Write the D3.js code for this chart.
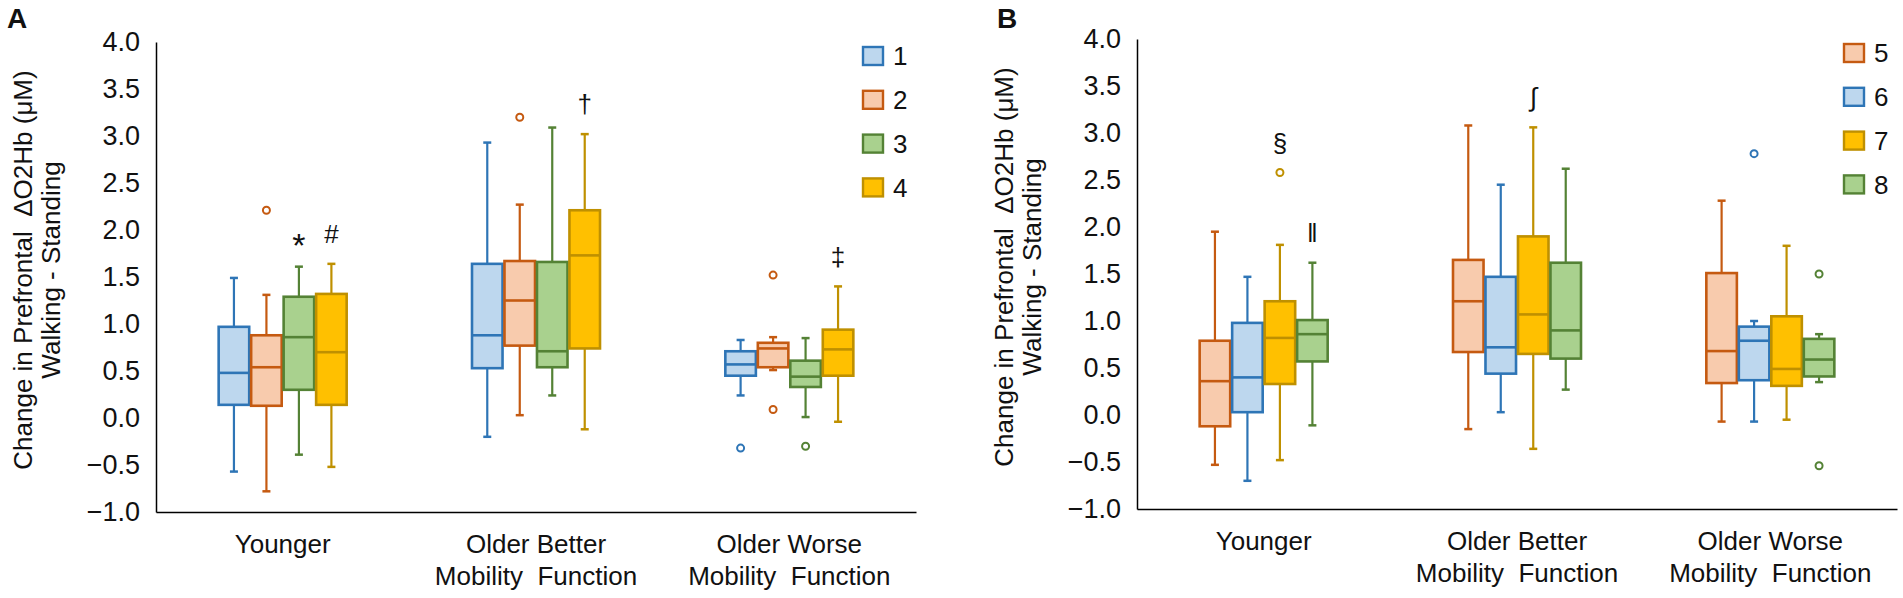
<!DOCTYPE html>
<html>
<head>
<meta charset="utf-8">
<script src="https://cdn.jsdelivr.net/npm/d3@7"></script>
<style>
  body { margin: 0; background: #fff; }
  text { font-family: Arial, "Liberation Sans", sans-serif; fill: #111; }
</style>
</head>
<body>
<svg id="chart" width="1903" height="598"></svg>
<script>
// Groups on the x axis (line breaks split the label)
const groups = ["Younger", "Older Better\nMobility  Function", "Older Worse\nMobility  Function"];
const yTicks = [-1.0, -0.5, 0.0, 0.5, 1.0, 1.5, 2.0, 2.5, 3.0, 3.5, 4.0];

// Panel A series, box stats per group: [low whisker, Q1, median, Q3, high whisker]
const seriesA = ["1", "2", "3", "4"];
const statsA1 = [[-0.57, 0.14, 0.48, 0.97, 1.49], [-0.20, 0.53, 0.88, 1.64, 2.93], [0.24, 0.45, 0.57, 0.71, 0.83]];
const statsA2 = [[-0.78, 0.13, 0.54, 0.88, 1.31], [0.03, 0.77, 1.25, 1.67, 2.27], [0.51, 0.54, 0.74, 0.80, 0.86]];
const statsA3 = [[-0.39, 0.30, 0.86, 1.29, 1.61], [0.24, 0.54, 0.71, 1.66, 3.09], [0.01, 0.33, 0.44, 0.61, 0.85]];
const statsA4 = [[-0.52, 0.14, 0.70, 1.32, 1.64], [-0.12, 0.74, 1.73, 2.21, 3.02], [-0.04, 0.45, 0.73, 0.94, 1.40]];
// outliers: [series, group index, value]
const outliersA = [["1", 2, -0.32], ["2", 0, 2.21], ["2", 1, 3.20], ["2", 2, 1.52], ["2", 2, 0.09], ["3", 2, -0.30]];
// significance marks: [series, group index, symbol]
const marksA = [["3", 0, "*"], ["4", 0, "#"], ["4", 1, "†"], ["4", 2, "‡"]];

// Panel B series
const seriesB = ["5", "6", "7", "8"];
const statsB5 = [[-0.53, -0.12, 0.36, 0.79, 1.95], [-0.15, 0.67, 1.21, 1.65, 3.08], [-0.07, 0.34, 0.68, 1.51, 2.28]];
const statsB6 = [[-0.70, 0.03, 0.40, 0.98, 1.47], [0.03, 0.44, 0.72, 1.47, 2.45], [-0.07, 0.37, 0.79, 0.94, 1.00]];
const statsB7 = [[-0.48, 0.33, 0.82, 1.21, 1.81], [-0.36, 0.65, 1.07, 1.90, 3.06], [-0.05, 0.31, 0.49, 1.05, 1.80]];
const statsB8 = [[-0.11, 0.57, 0.86, 1.01, 1.62], [0.27, 0.60, 0.90, 1.62, 2.62], [0.35, 0.41, 0.59, 0.81, 0.86]];
const outliersB = [["6", 2, 2.78], ["7", 0, 2.58], ["8", 2, 1.50], ["8", 2, -0.54]];
const marksB = [["7", 0, "§"], ["8", 0, "‖"], ["7", 1, "∫"]];

// colours: [stroke, fill]
const colour = {
  "1": ["#2E75B6", "#BDD7EE"], "6": ["#2E75B6", "#BDD7EE"],
  "2": ["#C55A11", "#F8CBAD"], "5": ["#C55A11", "#F8CBAD"],
  "3": ["#548235", "#A9D18E"], "8": ["#548235", "#A9D18E"],
  "4": ["#BF9000", "#FFC000"], "7": ["#BF9000", "#FFC000"]
};

const width = 760;
const height = 470;
const svg = d3.select('#chart');

function drawPanel(cfg) {
  const g = svg.append('g').attr('transform', `translate(${cfg.left},${cfg.top})`);

  const x0 = d3.scaleBand().domain(groups).range([0, width]);
  const bw = x0.bandwidth();
  const x1 = d3.scaleBand().domain(cfg.series).range([bw / 2 - 64, bw / 2 + 64]).paddingInner(0.06);
  const y = d3.scaleLinear().domain([-1, 4]).range([height, 0]);

  // y axis
  const yAxis = g.append('g')
    .call(d3.axisLeft(y).tickValues(yTicks).tickFormat(d3.format('.1f')).tickSize(0).tickPadding(16));
  yAxis.select('.domain').attr('stroke', '#000').attr('stroke-width', 1.5);
  yAxis.selectAll('text').style('font-size', '27px').attr('fill', '#111');

  // x axis with two-line category labels
  const xAxis = g.append('g')
    .attr('transform', `translate(0,${height})`)
    .call(d3.axisBottom(x0).tickSize(0).tickSizeOuter(0));
  xAxis.select('.domain').attr('stroke', '#000').attr('stroke-width', 1.5);
  xAxis.selectAll('.tick text').each(function(d) {
    const t = d3.select(this).text(null).attr('y', 0).attr('dy', null)
      .style('font-size', '26px').style('white-space', 'pre').attr('fill', '#111');
    d.split('\n').forEach((line, i) => {
      t.append('tspan').attr('x', 0).attr('y', 41 + i * 32).text(line);
    });
  });

  // y axis title
  const title = g.append('text')
    .attr('transform', 'rotate(-90)')
    .attr('text-anchor', 'middle')
    .style('font-size', '26px')
    .style('white-space', 'pre');
  title.append('tspan').attr('x', -228).attr('y', -124).text('Change in Prefrontal  ΔO2Hb (μM)');
  title.append('tspan').attr('x', -228).attr('y', -96).text('Walking - Standing');

  // panel letter
  g.append('text')
    .attr('x', cfg.letterX).attr('y', cfg.letterY)
    .style('font-size', '28px').style('font-weight', 'bold')
    .attr('fill', '#000')
    .text(cfg.letter);

  // boxes
  cfg.series.forEach((s, si) => {
    const [stroke, fill] = colour[s];
    cfg.stats[si].forEach((st, gi) => {
      const [lo, q1, med, q3, hi] = st;
      const cx = x0(groups[gi]) + x1(s) + x1.bandwidth() / 2;
      const left = x0(groups[gi]) + x1(s);
      const box = g.append('g');

      box.append('line')
        .attr('x1', cx).attr('x2', cx)
        .attr('y1', y(lo)).attr('y2', y(hi))
        .attr('stroke', stroke).attr('stroke-width', 2.2);

      [lo, hi].forEach(v => {
        box.append('line')
          .attr('x1', cx - 4).attr('x2', cx + 4)
          .attr('y1', y(v)).attr('y2', y(v))
          .attr('stroke', stroke).attr('stroke-width', 2.5);
      });

      box.append('rect')
        .attr('x', left).attr('width', x1.bandwidth())
        .attr('y', y(q3)).attr('height', y(q1) - y(q3))
        .attr('fill', fill)
        .attr('stroke', stroke).attr('stroke-width', 2.6);

      box.append('line')
        .attr('x1', left).attr('x2', left + x1.bandwidth())
        .attr('y1', y(med)).attr('y2', y(med))
        .attr('stroke', stroke).attr('stroke-width', 2.6);
    });
  });

  // outliers
  g.selectAll('circle.outlier')
    .data(cfg.outliers)
    .join('circle')
    .attr('class', 'outlier')
    .attr('cx', d => x0(groups[d[1]]) + x1(d[0]) + x1.bandwidth() / 2)
    .attr('cy', d => y(d[2]))
    .attr('r', 3.5)
    .attr('fill', '#fff')
    .attr('stroke', d => colour[d[0]][0])
    .attr('stroke-width', 2);

  // significance marks, placed above the highest point of the box
  cfg.marks.forEach(([s, gi, sym]) => {
    const si = cfg.series.indexOf(s);
    const tops = [cfg.stats[si][gi][4]]
      .concat(cfg.outliers.filter(o => o[0] === s && o[1] === gi).map(o => o[2]));
    g.append('text')
      .attr('x', x0(groups[gi]) + x1(s) + x1.bandwidth() / 2)
      .attr('y', y(d3.max(tops)) - 30)
      .attr('dy', sym === '*' ? '0.6em' : '0.35em')
      .attr('text-anchor', 'middle')
      .style('font-size', sym === '*' ? '34px' : '26px')
      .attr('fill', '#222')
      .text(sym);
  });

  // legend
  const legend = g.append('g').attr('transform', `translate(${width - 53},14)`);
  cfg.series.forEach((s, i) => {
    const row = legend.append('g').attr('transform', `translate(0,${i * 43.8})`);
    row.append('rect')
      .attr('x', 0).attr('y', -9).attr('width', 20).attr('height', 18)
      .attr('fill', colour[s][1]).attr('stroke', colour[s][0]).attr('stroke-width', 2.4);
    row.append('text')
      .attr('x', 30).attr('y', 0).attr('dy', '0.36em')
      .style('font-size', '26px')
      .text(s);
  });
}

drawPanel({
  left: 156, top: 42, letter: 'A', letterX: -149, letterY: -14,
  series: seriesA, stats: [statsA1, statsA2, statsA3, statsA4],
  outliers: outliersA, marks: marksA
});

drawPanel({
  left: 1137, top: 39, letter: 'B', letterX: -140, letterY: -11,
  series: seriesB, stats: [statsB5, statsB6, statsB7, statsB8],
  outliers: outliersB, marks: marksB
});
</script>
</body>
</html>
